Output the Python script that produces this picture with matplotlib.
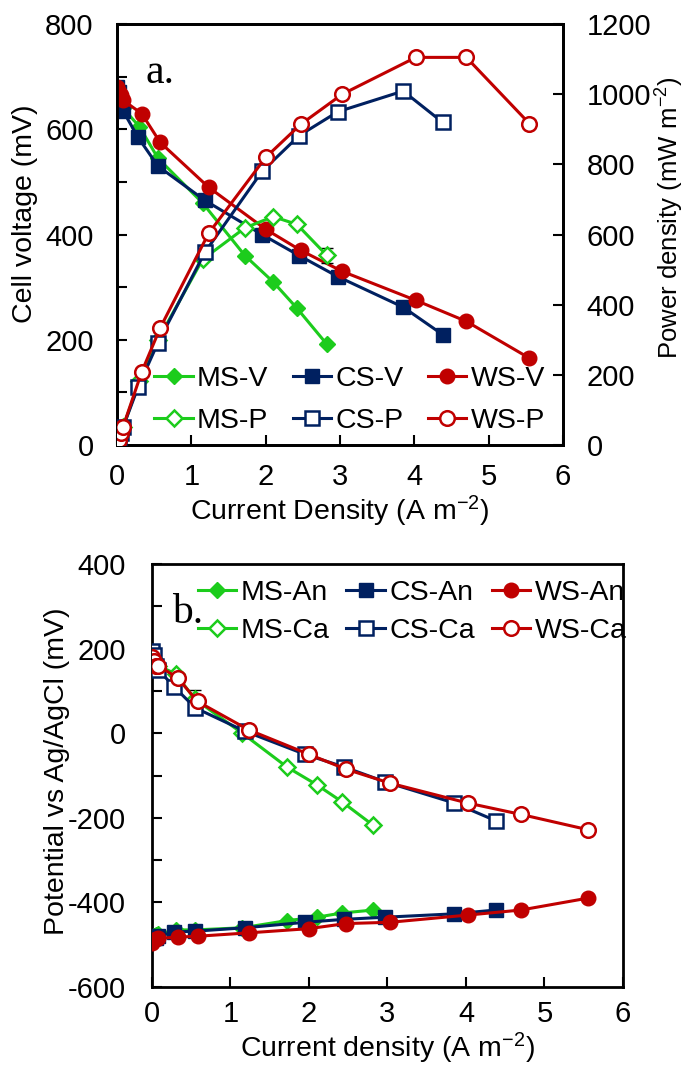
import matplotlib
matplotlib.use('Agg')
import matplotlib.pyplot as plt
from matplotlib.ticker import MultipleLocator

plt.rcParams['font.family'] = ['Liberation Sans', 'DejaVu Sans']
plt.rcParams['mathtext.fontset'] = 'custom'
plt.rcParams['mathtext.rm'] = 'Liberation Sans'
plt.rcParams['mathtext.it'] = 'Liberation Sans'
plt.rcParams['axes.unicode_minus'] = False

# current density (A m-2)
x_ms = [0, 0.02, 0.05, 0.08, 0.30, 0.55, 1.15, 1.72, 2.10, 2.42, 2.82]
x_cs = [0, 0.02, 0.05, 0.08, 0.28, 0.55, 1.18, 1.95, 2.45, 2.97, 3.85, 4.38]
x_ws = [0, 0.02, 0.05, 0.08, 0.33, 0.58, 1.23, 2.00, 2.47, 3.03, 4.02, 4.70, 5.55]

# cell voltage (mV)
v_ms = [670, 665, 655, 640, 605, 545, 460, 360, 310, 260, 192]
v_cs = [680, 670, 650, 635, 585, 530, 465, 400, 360, 320, 262, 210]
v_ws = [680, 670, 665, 655, 630, 575, 490, 410, 370, 330, 275, 235, 165]

# power density (mW m-2)
p_ms = [0, 13, 33, 51, 182, 300, 529, 619, 651, 629, 541]
p_cs = [0, 13, 33, 51, 164, 292, 549, 780, 882, 950, 1009, 920]
p_ws = [0, 13, 33, 52, 208, 334, 603, 820, 914, 1000, 1105, 1105, 916]
err_p_ms = [0, 0, 0, 0, 0, 0, 0, 0, 0, 0, 22]

# electrode potentials vs Ag/AgCl (mV)
an_ms = [-485, -480, -478, -475, -465, -465, -460, -443, -435, -425, -418]
ca_ms = [185, 175, 165, 160, 140, 80, 0, -80, -122, -162, -218]
an_cs = [-485, -485, -483, -480, -470, -468, -460, -447, -440, -435, -427, -418]
ca_cs = [195, 185, 160, 150, 110, 60, 5, -50, -80, -115, -165, -207]
an_ws = [-495, -490, -487, -485, -482, -480, -472, -462, -450, -447, -430, -418, -390]
ca_ws = [180, 170, 160, 160, 130, 75, 8, -50, -85, -118, -165, -192, -228]
err_ca_ms = [0, 0, 0, 0, 0, 22, 0, 0, 0, 0, 0]

green = '#1ccc1c'
navy = '#002060'
red = '#c00000'
FS = 20.5
TFS = 21
lw = 2.2
ms = 9.5

fig = plt.figure(figsize=(6.89, 10.69), dpi=100)

# ---------- panel a ----------
ax1 = fig.add_axes([0.170, 0.5837, 0.647, 0.3938])
ax2 = ax1.twinx()

l1, = ax1.plot(x_ms, v_ms, color=green, lw=lw, marker='D', ms=ms - 1, mfc=green, mec=green, label='MS-V', zorder=3)
l2, = ax1.plot(x_cs, v_cs, color=navy, lw=lw, marker='s', ms=ms, mfc=navy, mec=navy, label='CS-V', zorder=4)
l3, = ax1.plot(x_ws, v_ws, color=red, lw=lw, marker='o', ms=ms + 1, mfc=red, mec=red, label='WS-V', zorder=5)
ax2.errorbar(x_ms, p_ms, yerr=err_p_ms, fmt='none', ecolor='black', elinewidth=1, capsize=4, zorder=2)
l4, = ax2.plot(x_ms, p_ms, color=green, lw=lw, marker='D', ms=ms - 1, mfc='white', mec=green, mew=1.8, label='MS-P', zorder=3)
l5, = ax2.plot(x_cs, p_cs, color=navy, lw=lw, marker='s', ms=ms, mfc='white', mec=navy, mew=1.8, label='CS-P', zorder=4)
l6, = ax2.plot(x_ws, p_ws, color=red, lw=lw, marker='o', ms=ms + 1, mfc='white', mec=red, mew=1.8, label='WS-P', zorder=5)

ax1.set_xlim(0, 6)
ax1.set_ylim(0, 800)
ax2.set_ylim(0, 1200)
ax1.xaxis.set_major_locator(MultipleLocator(1))
ax1.yaxis.set_major_locator(MultipleLocator(200))
ax1.yaxis.set_minor_locator(MultipleLocator(100))
ax2.yaxis.set_major_locator(MultipleLocator(200))
ax1.tick_params(axis='both', which='both', direction='in', length=7, width=1.5, labelsize=TFS, top=False)
ax1.tick_params(axis='y', which='both', right=False, pad=17)
ax1.tick_params(axis='x', pad=13)
ax2.tick_params(axis='y', direction='in', length=7, width=1.5, labelsize=TFS, pad=17)
for a in (ax1, ax2):
    for s in a.spines.values():
        s.set_linewidth(2)
ax1.set_xlabel('Current Density (A m$^{\u2212 2}$)', fontsize=FS, labelpad=2)
ax1.set_ylabel('Cell voltage (mV)', fontsize=FS)
ax1.yaxis.set_label_coords(-0.178, 0.55)
ax2.set_ylabel('Power density (mW m$^{-2}$)', fontsize=18.5)
ax2.yaxis.set_label_coords(1.203, 0.54)
ax1.text(0.38, 688, 'a.', fontsize=30, family='Liberation Serif')

ax2.legend([l1, l4, l2, l5, l3, l6], ['MS-V', 'MS-P', 'CS-V', 'CS-P', 'WS-V', 'WS-P'],
           ncol=3, loc='lower left', bbox_to_anchor=(0.058, 0.0), frameon=False, fontsize=FS,
           handlelength=1.35, handletextpad=0.15, columnspacing=0.85, labelspacing=0.55,
           borderaxespad=0.0)

# ---------- panel b ----------
ax3 = fig.add_axes([0.2206, 0.0767, 0.6836, 0.3957])
ax3.errorbar(x_ms, ca_ms, yerr=err_ca_ms, fmt='none', ecolor='black', elinewidth=1, capsize=4, zorder=2)
b1, = ax3.plot(x_ms, an_ms, color=green, lw=lw, marker='D', ms=ms - 1, mfc=green, mec=green, zorder=3)
b2, = ax3.plot(x_ms, ca_ms, color=green, lw=lw, marker='D', ms=ms - 1, mfc='white', mec=green, mew=1.8, zorder=3)
b3, = ax3.plot(x_cs, an_cs, color=navy, lw=lw, marker='s', ms=ms, mfc=navy, mec=navy, zorder=4)
b4, = ax3.plot(x_cs, ca_cs, color=navy, lw=lw, marker='s', ms=ms, mfc='white', mec=navy, mew=1.8, zorder=4)
b5, = ax3.plot(x_ws, an_ws, color=red, lw=lw, marker='o', ms=ms + 1, mfc=red, mec=red, zorder=5)
b6, = ax3.plot(x_ws, ca_ws, color=red, lw=lw, marker='o', ms=ms + 1, mfc='white', mec=red, mew=1.8, zorder=5)

ax3.set_xlim(0, 6)
ax3.set_ylim(-600, 400)
ax3.xaxis.set_major_locator(MultipleLocator(1))
ax3.yaxis.set_major_locator(MultipleLocator(200))
ax3.yaxis.set_minor_locator(MultipleLocator(100))
ax3.tick_params(axis='both', which='both', direction='in', length=7, width=1.5, labelsize=TFS)
ax3.tick_params(axis='x', pad=9.5)
ax3.tick_params(axis='y', which='both', pad=19)
for s in ax3.spines.values():
    s.set_linewidth(2)
ax3.set_xlabel('Current density (A m$^{\u2212 2}$)', fontsize=FS)
ax3.xaxis.set_label_coords(0.5, -0.103)
ax3.set_ylabel('Potential vs Ag/AgCl (mV)', fontsize=FS)
ax3.yaxis.set_label_coords(-0.174, 0.51)
ax3.text(0.25, 261, 'b.', fontsize=30, family='Liberation Serif')

ax3.legend([b1, b2, b3, b4, b5, b6], ['MS-An', 'MS-Ca', 'CS-An', 'CS-Ca', 'WS-An', 'WS-Ca'],
           ncol=3, loc='upper left', bbox_to_anchor=(0.073, 0.99), frameon=False, fontsize=FS,
           handlelength=1.35, handletextpad=0.15, columnspacing=0.6, labelspacing=0.42,
           borderaxespad=0.0)

fig.savefig('out.png', dpi=100)
